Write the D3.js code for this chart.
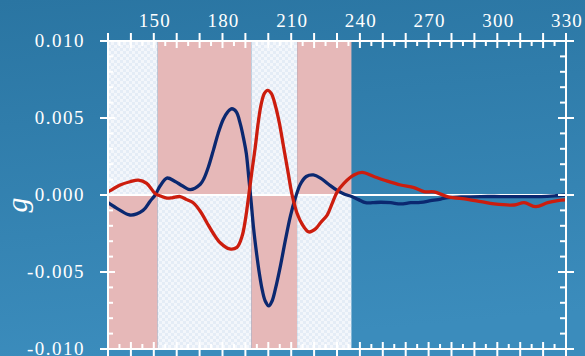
<!DOCTYPE html>
<html><head><meta charset="utf-8">
<script src="https://cdn.jsdelivr.net/npm/d3@7"></script>
<style>
html,body{margin:0;padding:0;background:#2f7fae;}
svg{display:block;}
text{font-family:"Liberation Serif","DejaVu Serif",serif;fill:#fff;}
</style></head><body>
<script>
// ---- data ----
const blueX = [130,134.8,139.6,145.3,148.4,150.6,152.8,155.7,159.3,162.4,165.9,170.3,172.0,173.8,176.0,178.1,180.3,182.3,184.1,186.0,187.8,189.3,190.4,191.5,192.6,193.6,194.8,196.1,197.4,198.7,200.2,201.6,203.1,205.3,207.5,209.6,211.8,214.0,216.6,219.7,222.8,226.3,230.1,233.3,236.4,239.4,242.5,245.5,249.0,253.4,257.8,262.2,266.5,270.9,275.3,278.4,284.1,292.8,301.6,310.3,319.1,325.6,330];
const blueY = [-0.0005,-0.00095,-0.0013,-0.001,-0.0004,0.0,0.0006,0.0011,0.00088,0.0006,0.00035,0.0007,0.0011,0.0018,0.0029,0.0040,0.0049,0.0054,0.0056,0.0054,0.0046,0.0036,0.0027,0.0011,-0.0006,-0.0022,-0.0037,-0.0051,-0.0062,-0.0069,-0.0072,-0.0069,-0.0061,-0.0046,-0.0029,-0.0014,-0.0002,0.0007,0.0012,0.0013,0.0011,0.0007,0.0003,0.00005,-0.0001,-0.0003,-0.0005,-0.0005,-0.00047,-0.0005,-0.00058,-0.0005,-0.00048,-0.00037,-0.00026,-0.00017,-0.00013,-0.0001,-0.0001,-0.0001,-0.0001,-0.00005,0.0];
const redX = [130,130.9,135.3,139.6,143.3,146.9,150.6,153.5,155.7,158.0,161.5,164.4,167.2,170.5,173.2,176.0,179.0,183.1,186.3,188.5,190.0,191.4,192.9,194.3,195.6,196.9,198.3,199.7,201.3,203.1,204.8,206.7,208.6,210.4,212.6,214.8,217.7,220.6,222.8,225.7,227.9,230.1,233.0,237.4,241.0,246.1,252.0,257.8,263.6,268.0,272.4,278.2,287.0,292.8,298.6,307.4,311.7,316.9,322.0,326.4,330];
const redY = [0.0002,0.00028,0.00065,0.00086,0.00097,0.00076,0.0001,-0.0001,-0.0002,-0.00018,-0.0001,-0.0003,-0.0005,-0.0011,-0.0018,-0.0025,-0.0031,-0.0035,-0.0034,-0.0027,-0.0016,-0.0001,0.0016,0.0031,0.0047,0.0059,0.0066,0.0068,0.0066,0.0058,0.0047,0.0031,0.0015,0.0,-0.0012,-0.0019,-0.0024,-0.0022,-0.0018,-0.0013,-0.00054,0.0002,0.00076,0.0013,0.00147,0.0012,0.0009,0.00065,0.00048,0.00022,0.0002,-0.0001,-0.00028,-0.00043,-0.00058,-0.00065,-0.0005,-0.00076,-0.0005,-0.00037,-0.00032];
const bandEdges = [130,151.7,192.6,212.6,236.3];
const xTickLabels = [150,180,210,240,270,300,330];
const yTickLabels = ["-0.010","-0.005","0.000","0.005","0.010"];
const yTickValues = [-0.010,-0.005,0,0.005,0.010];
const yLabel = "g";

// ---- chart ----
const W=585,H=356;
const x = d3.scaleLinear().domain([130,330]).range([108,566]);
const y = d3.scaleLinear().domain([-0.010,0.010]).range([349,41]);

const svg = d3.select("body").append("svg").attr("width",W).attr("height",H);
const defs = svg.append("defs");
const g1 = defs.append("linearGradient").attr("id","bg").attr("x1",0).attr("y1",0).attr("x2",0.15).attr("y2",1);
g1.append("stop").attr("offset",0).attr("stop-color","#2a75a2");
g1.append("stop").attr("offset",1).attr("stop-color","#3b8cbc");
svg.append("rect").attr("width",W).attr("height",H).attr("fill","url(#bg)");

const pat = defs.append("pattern").attr("id","chk").attr("width",6).attr("height",6).attr("patternUnits","userSpaceOnUse");
pat.append("rect").attr("width",6).attr("height",6).attr("fill","#f3f6fb");
pat.append("rect").attr("width",3).attr("height",3).attr("fill","#e4ecf6");
pat.append("rect").attr("x",3).attr("y",3).attr("width",3).attr("height",3).attr("fill","#e4ecf6");

const pink = "#e6b8b8";
for (let i=0;i<bandEdges.length-1;i++){
  const x0=x(bandEdges[i]), x1=x(bandEdges[i+1]);
  svg.append("rect").attr("x",x0).attr("y",y(0.010)).attr("width",x1-x0).attr("height",y(0)-y(0.010))
    .attr("fill", i%2===0 ? "url(#chk)" : pink);
  svg.append("rect").attr("x",x0).attr("y",y(0)).attr("width",x1-x0).attr("height",y(-0.010)-y(0))
    .attr("fill", i%2===0 ? pink : "url(#chk)");
}

// zero line
svg.append("line").attr("x1",100).attr("x2",574).attr("y1",y(0)).attr("y2",y(0))
  .attr("stroke","#fff").attr("stroke-width",2);

// curves
const line = d3.line().x(d=>x(d[0])).y(d=>y(d[1])).curve(d3.curveCatmullRom.alpha(0.5));
svg.append("path").datum(blueX.map((v,i)=>[v,blueY[i]])).attr("d",line)
  .attr("fill","none").attr("stroke","#0b2870").attr("stroke-width",3.3).attr("stroke-linejoin","round");
svg.append("path").datum(redX.map((v,i)=>[v,redY[i]])).attr("d",line)
  .attr("fill","none").attr("stroke","#cc1d0e").attr("stroke-width",3.3).attr("stroke-linejoin","round");

// axes frame
const ax = svg.append("g").attr("stroke","#fff").attr("stroke-width",2);
const X0=x(130),X1=x(330),Y0=y(0.010),Y1=y(-0.010);
ax.append("line").attr("x1",X0).attr("x2",X1).attr("y1",Y0).attr("y2",Y0);
ax.append("line").attr("x1",X0).attr("x2",X1).attr("y1",Y1).attr("y2",Y1);
ax.append("line").attr("x1",X0).attr("x2",X0).attr("y1",Y0).attr("y2",Y1);
ax.append("line").attr("x1",X1).attr("x2",X1).attr("y1",Y0).attr("y2",Y1);

const xMajor = d3.range(130,331,10), xMinor = d3.range(135,330,10);
const yMajor = yTickValues, yMinor = d3.range(-9,10).filter(k=>k%5!==0).map(k=>k*0.001);
xMajor.forEach(v=>{
  ax.append("line").attr("x1",x(v)).attr("x2",x(v)).attr("y1",Y0-8).attr("y2",Y0+7);
  ax.append("line").attr("x1",x(v)).attr("x2",x(v)).attr("y1",Y1-7).attr("y2",Y1+8);
});
xMinor.forEach(v=>{
  ax.append("line").attr("x1",x(v)).attr("x2",x(v)).attr("y1",Y0).attr("y2",Y0+5);
  ax.append("line").attr("x1",x(v)).attr("x2",x(v)).attr("y1",Y1-5).attr("y2",Y1);
});
yMajor.forEach(v=>{
  ax.append("line").attr("y1",y(v)).attr("y2",y(v)).attr("x1",X0-8).attr("x2",X0+7);
  ax.append("line").attr("y1",y(v)).attr("y2",y(v)).attr("x1",X1-8).attr("x2",X1+8);
});
yMinor.forEach(v=>{
  ax.append("line").attr("y1",y(v)).attr("y2",y(v)).attr("x1",X0).attr("x2",X0+5);
  ax.append("line").attr("y1",y(v)).attr("y2",y(v)).attr("x1",X1-6).attr("x2",X1);
});

// labels
svg.append("g").selectAll("text").data(xTickLabels).join("text")
  .attr("x",d=>x(d)+1).attr("y",27).attr("text-anchor","middle")
  .attr("font-size",19).attr("letter-spacing",1.2).text(d=>d);
svg.append("g").selectAll("text").data(yTickValues).join("text")
  .attr("x",85).attr("y",d=>y(d)+6).attr("text-anchor","end")
  .attr("font-size",19).attr("letter-spacing",1.5).text((d,i)=>yTickLabels[i]);
svg.append("text").attr("transform","translate(27,205) rotate(-90)").attr("text-anchor","middle")
  .attr("font-size",30).attr("font-style","italic").text(yLabel);
</script>
</body></html>
